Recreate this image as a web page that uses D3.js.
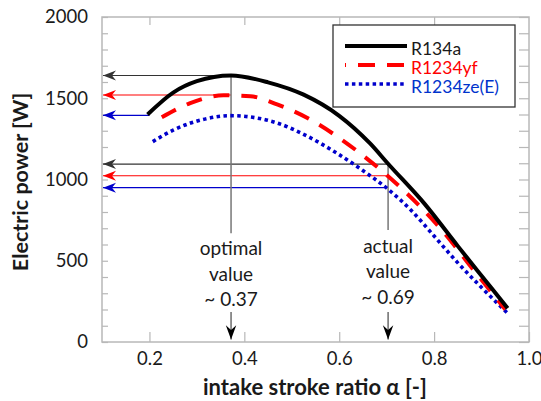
<!DOCTYPE html>
<html><head><meta charset="utf-8">
<script src="https://cdn.jsdelivr.net/npm/d3@7"></script>
<style>
html,body{margin:0;padding:0;background:#fff;}
svg{display:block;font-family:Lato,"Open Sans",sans-serif;}
</style></head>
<body>
<svg id="c" width="541" height="401"></svg>
<script>
// ---- data ----
const seriesNames = ["R134a", "R1234yf", "R1234ze(E)"];
const alphaR134a = [0.196,0.25,0.30,0.372,0.45,0.525,0.6,0.665,0.703,0.78,0.85,0.92,0.955];
const powerR134a = [1400,1535,1605,1640,1598,1522,1392,1222,1097,850,590,335,207];
const alphaR1234yf = [0.226,0.286,0.356,0.413,0.469,0.532,0.592,0.649,0.703,0.765,0.821,0.871,0.92,0.95];
const powerR1234yf = [1383,1470,1518,1512,1462,1380,1272,1150,1020,850,672,488,310,200];
const alphaR1234ze = [0.207,0.251,0.321,0.37,0.427,0.469,0.525,0.596,0.645,0.703,0.751,0.8,0.849,0.899,0.955];
const powerR1234ze = [1233,1305,1375,1393,1378,1348,1278,1160,1065,940,812,652,490,338,177];
const xTicks = [0.2,0.4,0.6,0.8,1.0];
const yTicks = [0,500,1000,1500,2000];
const arrowValues = [1640,1520,1395,1095,1023,950];
const arrowFrom = [0.372,0.372,0.2,0.703,0.7,0.7];
const markerAlpha = [0.372, 0.703];
const markerTop = [1640, 1095];
const markerLabels = [["optimal","value","~ 0.37"],["actual","value","~ 0.69"]];

// ---- styles ----
const colors = ["#000000","#ff0000","#0000cc"];
const textColors = ["#1a1a1a","#ff0000","#0033cc"];
const widths = [4,4,3.6];
const dashes = [null,"16,12","3.5,3.4"];
const arrowColors = ["#333333","#ff0000","#0000cc","#333333","#ff0000","#0000cc"];

const svg = d3.select("#c");
const x = d3.scaleLinear().domain([0.1,1.0]).range([102,529]);
const y = d3.scaleLinear().domain([0,2000]).range([342,17]);
const frameColor = "#b8b8b8";

// frame
svg.append("rect").attr("x",x(0.1)).attr("y",y(2000)).attr("width",x(1)-x(0.1)).attr("height",y(0)-y(2000))
  .attr("fill","none").attr("stroke",frameColor).attr("stroke-width",1.5);

const minorY = d3.range(0,2001,100);
function styleAxis(g){
  g.select(".domain").remove();
  g.selectAll(".tick line").attr("stroke",frameColor).attr("stroke-width",1.2);
  g.selectAll(".tick text").attr("fill","#1a1a1a").attr("font-size",18.5).attr("font-family","Lato, sans-serif");
}
// left axis
svg.append("g").attr("transform",`translate(${x(0.1)},0)`)
  .call(d3.axisLeft(y).tickValues(minorY).tickSizeInner(-6).tickSizeOuter(0).tickPadding(14)
    .tickFormat(d => yTicks.includes(d) ? d : ""))
  .call(styleAxis);
// right axis
svg.append("g").attr("transform",`translate(${x(1)},0)`)
  .call(d3.axisRight(y).tickValues(minorY).tickSizeInner(-10).tickSizeOuter(0).tickFormat(""))
  .call(styleAxis);
// bottom axis
svg.append("g").attr("transform",`translate(0,${y(0)})`)
  .call(d3.axisBottom(x).tickValues(xTicks).tickSizeInner(-10).tickSizeOuter(0).tickPadding(10)
    .tickFormat(d3.format(".1f")))
  .call(styleAxis);
// top axis
svg.append("g").attr("transform",`translate(0,${y(2000)})`)
  .call(d3.axisTop(x).tickValues(xTicks.slice(0,4)).tickSizeInner(-8).tickSizeOuter(0).tickFormat(""))
  .call(styleAxis);

// axis titles
svg.append("text").attr("x",315).attr("y",395).attr("text-anchor","middle")
  .attr("font-size",22).attr("font-weight","bold").attr("fill","#1a1a1a")
  .text("intake stroke ratio α [-]");
svg.append("text").attr("transform","translate(28,182) rotate(-90)").attr("text-anchor","middle")
  .attr("font-size",21.5).attr("font-weight","bold").attr("fill","#1a1a1a")
  .text("Electric power [W]");

// markers
const defs = svg.append("defs");
arrowColors.forEach((c,i)=>{
  defs.append("marker").attr("id","ah"+i).attr("markerUnits","userSpaceOnUse")
    .attr("markerWidth",16).attr("markerHeight",12).attr("viewBox","-14 -6 16 12")
    .attr("refX",0).attr("refY",0).attr("orient","auto")
    .append("path").attr("d","M0,0 L-13,-5 L-9,0 L-13,5 Z").attr("fill",c);
});
defs.append("marker").attr("id","ahv").attr("markerUnits","userSpaceOnUse")
  .attr("markerWidth",18).attr("markerHeight",14).attr("viewBox","-17 -7 19 14")
  .attr("refX",0).attr("refY",0).attr("orient","auto")
  .append("path").attr("d","M0,0 L-15,-5.5 L-10,0 L-15,5.5 Z").attr("fill","#000");

// horizontal arrows
arrowValues.forEach((v,i)=>{
  svg.append("line").attr("x1",x(arrowFrom[i])).attr("x2",x(0.1)+1).attr("y1",y(v)).attr("y2",y(v))
    .attr("stroke",arrowColors[i]).attr("stroke-width",1.2).attr("marker-end",`url(#ah${i})`);
});

// vertical marker lines and labels
const textTop = [670, 689];
const labelBase = [[255,281,306],[253,278,304]];
markerAlpha.forEach((a,i)=>{
  svg.append("line").attr("x1",x(a)).attr("x2",x(a)).attr("y1",y(markerTop[i])).attr("y2",y(textTop[i]))
    .attr("stroke","#777").attr("stroke-width",1.5);
  svg.append("line").attr("x1",x(a)).attr("x2",x(a)).attr("y1",y(185)).attr("y2",y(15))
    .attr("stroke","#555").attr("stroke-width",1.3).attr("marker-end","url(#ahv)");
  markerLabels[i].forEach((t,j)=>{
    svg.append("text").attr("x",x(a)).attr("y",labelBase[i][j]).attr("text-anchor","middle")
      .attr("font-size",19).attr("fill","#1a1a1a").text(t);
  });
});

// curves
const series = [
  alphaR134a.map((a,i)=>[a,powerR134a[i]]),
  alphaR1234yf.map((a,i)=>[a,powerR1234yf[i]]),
  alphaR1234ze.map((a,i)=>[a,powerR1234ze[i]])
];
const line = d3.line().x(d=>x(d[0])).y(d=>y(d[1])).curve(d3.curveMonotoneX);
[2,1,0].forEach(i=>{
  svg.append("path").attr("d",line(series[i])).attr("fill","none")
    .attr("stroke",colors[i]).attr("stroke-width",widths[i])
    .attr("stroke-dasharray",dashes[i]);
});

// legend
const lg = svg.append("g");
lg.append("rect").attr("x",333).attr("y",25).attr("width",182).attr("height",82)
  .attr("fill","#fff").attr("stroke","#333").attr("stroke-width",1.3);
seriesNames.forEach((n,i)=>{
  const ly = 46 + i*19;
  lg.append("line").attr("x1",345).attr("x2",407).attr("y1",ly).attr("y2",ly)
    .attr("stroke",colors[i]).attr("stroke-width",widths[i])
    .attr("stroke-dasharray", i===1 ? "17,12" : dashes[i])
    .attr("stroke-dashoffset", i===1 ? -13 : 0);
  lg.append("text").attr("x",411).attr("y",ly+8.5).attr("font-size",17.5)
    .attr("fill",textColors[i]).text(n);
});
</script>
</body></html>
